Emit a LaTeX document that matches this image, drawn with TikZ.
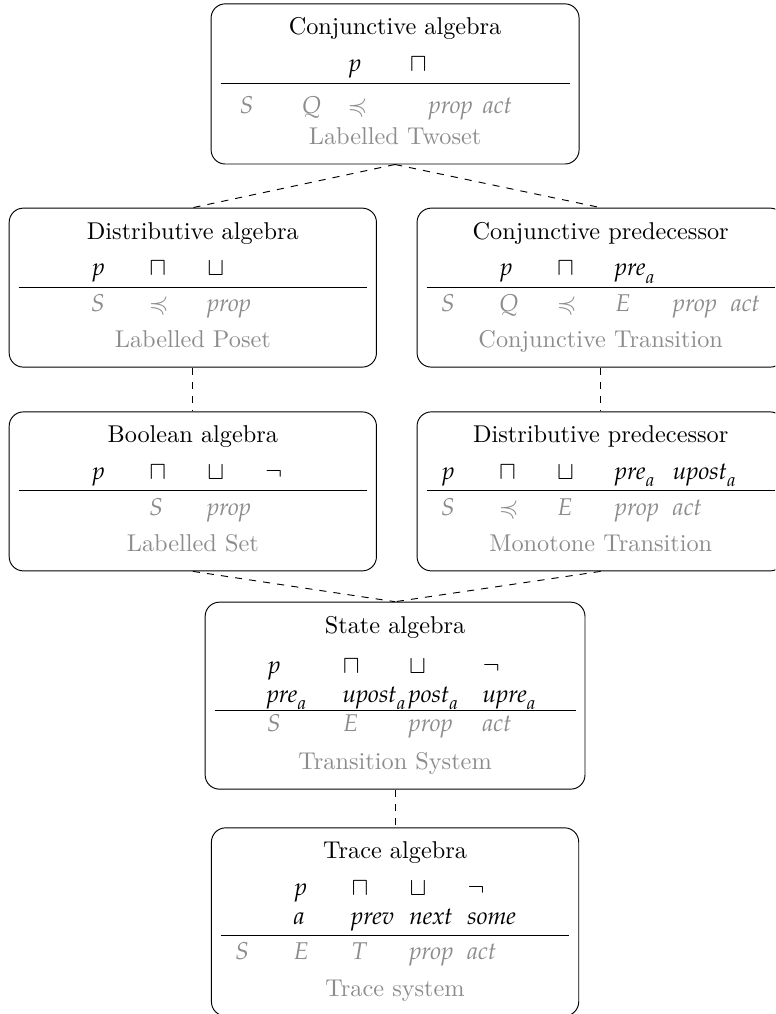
\documentclass[tikz,border=0pt]{standalone}
\usepackage{mathpazo}
\usepackage{amssymb}
\usepackage{array}
\usepackage{tikz}
\usetikzlibrary{positioning}

% math cell of fixed width, left aligned
\newcolumntype{M}[1]{>{$}w{l}{#1}<{$}}
\newcommand{\model}[1]{\textcolor{black!45}{#1}}

\begin{document}
\begin{tikzpicture}[
  algbox/.style={draw, rounded corners=6pt, inner xsep=4pt, inner ysep=4.5pt,
    font=\fontsize{10.25pt}{12.3pt}\selectfont},
  link/.style={dashed},
  node distance=0.65cm
]
  \useasboundingbox (-5.86cm,0.05cm) rectangle (5.64cm,-14.99cm);
  \clip (-5.86cm,0.05cm) rectangle (5.64cm,-14.99cm);

  \node[algbox, anchor=north] (conj) at (0,0) {%
    \begin{tabular}{@{\hspace{8pt}}M{14.2pt}M{7.4pt}M{14.2pt}M{8pt}@{}M{11pt}M{36.5pt}@{}}
      \multicolumn{6}{c}{Conjunctive algebra}\\[3pt]
      & & p & \sqcap & & \\[1.5pt]
      \hline\noalign{\vskip3.5pt}
      \model{S} & \model{Q} & \model{\preccurlyeq} & & \model{\mathit{prop}} & \model{\mathit{act}}\\[1pt]
      \multicolumn{6}{c}{\model{Labelled Twoset}}
    \end{tabular}};

  \node[algbox, below=0.64cm of conj, xshift=-3cm] (dist) {%
    \begin{tabular}{*{6}{M{12.5pt}}}
      \multicolumn{6}{c}{Distributive algebra}\\[3pt]
      & p & \sqcap & \sqcup & & \\[1pt]
      \hline\noalign{\vskip1.5pt}
      & \model{S} & \model{\preccurlyeq} & \model{\mathit{prop}} & & \\[3pt]
      \multicolumn{6}{c}{\model{Labelled Poset}}
    \end{tabular}};

  \node[algbox, below=0.64cm of conj, xshift=3.05cm] (cpred) {%
    \begin{tabular}{*{6}{M{12.5pt}}}
      \multicolumn{6}{c}{Conjunctive predecessor}\\[3pt]
      & p & \sqcap & \mathit{pre}_a & & \\[1pt]
      \hline\noalign{\vskip1.5pt}
      \model{S} & \model{Q} & \model{\preccurlyeq} & \model{E} & \model{\mathit{prop}} & \model{\mathit{act}}\\[3pt]
      \multicolumn{6}{c}{\model{Conjunctive Transition}}
    \end{tabular}};

  \node[algbox, below=of dist] (bool) {%
    \begin{tabular}{*{6}{M{12.5pt}}}
      \multicolumn{6}{c}{Boolean algebra}\\[3pt]
      & p & \sqcap & \sqcup & \neg & \\[1pt]
      \hline\noalign{\vskip1.5pt}
      & & \model{S} & \model{\mathit{prop}} & & \\[3pt]
      \multicolumn{6}{c}{\model{Labelled Set}}
    \end{tabular}};

  \node[algbox, below=of cpred] (dpred) {%
    \begin{tabular}{*{6}{M{12.5pt}}}
      \multicolumn{6}{c}{Distributive predecessor}\\[3pt]
      p & \sqcap & \sqcup & \mathit{pre}_a & \mathit{upost}_a & \\[1pt]
      \hline\noalign{\vskip1.5pt}
      \model{S} & \model{\preccurlyeq} & \model{E} & \model{\mathit{prop}} & \model{\mathit{act}} & \\[3pt]
      \multicolumn{6}{c}{\model{Monotone Transition}}
    \end{tabular}};

  \coordinate (join) at (bool.south -| conj.south);

  \node[algbox, below=0.45cm of join] (state) {%
    \begin{tabular}{@{\hspace{22pt}}M{20pt}M{15.9pt}M{19.2pt}M{39.2pt}@{}}
      \multicolumn{4}{c}{State algebra}\\[4.5pt]
      p & \sqcap & \sqcup & \neg \\
      \mathit{pre}_a & \mathit{upost}_a & \mathit{post}_a & \mathit{upre}_a \\[-0.5pt]
      \hline
      \model{S} & \model{E} & \model{\mathit{prop}} & \model{\mathit{act}}\\[4pt]
      \multicolumn{4}{c}{\model{Transition System}}
    \end{tabular}};

  \node[algbox, below=0.56cm of state] (trace) {%
    \begin{tabular}{*{6}{M{12.5pt}}}
      \multicolumn{6}{c}{Trace algebra}\\[3pt]
      & p & \sqcap & \sqcup & \neg & \\
      & a & \mathit{prev} & \mathit{next} & \mathit{some} & \\[1pt]
      \hline\noalign{\vskip1pt}
      \model{S} & \model{E} & \model{T} & \model{\mathit{prop}} & \model{\mathit{act}} & \\[3.5pt]
      \multicolumn{6}{c}{\model{Trace system}}
    \end{tabular}};

  \draw[link] (conj.south) -- (dist.north);
  \draw[link] (conj.south) -- (cpred.north);
  \draw[link] (dist.south) -- (bool.north);
  \draw[link] (cpred.south) -- (dpred.north);
  \draw[link] (bool.south) -- (state.north);
  \draw[link] (dpred.south) -- (state.north);
  \draw[link] (state.south) -- (trace.north);
\end{tikzpicture}
\end{document}
